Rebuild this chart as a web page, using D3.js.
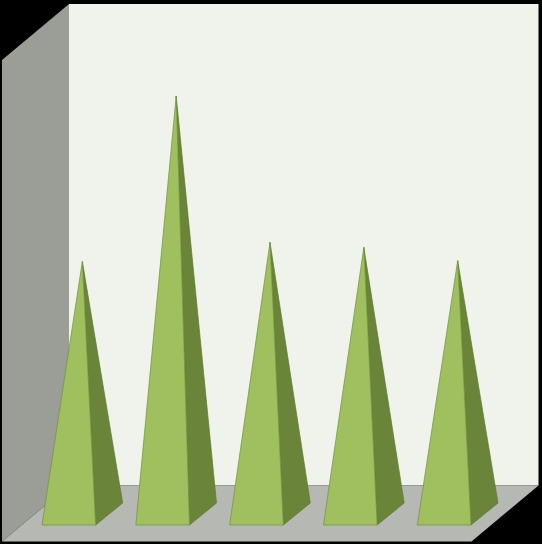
<!DOCTYPE html>
<html>
<head>
<meta charset="utf-8">
<script src="https://cdn.jsdelivr.net/npm/d3@7"></script>
<style>
html, body { margin: 0; padding: 0; background: #000; }
svg { display: block; }
</style>
</head>
<body>
<script>
// no labels in the picture, so the categories are just numbered
var categories = ["1", "2", "3", "4", "5"];
var values = [3.02, 5.0, 3.25, 3.19, 3.03];

var width = 542, height = 544;

var svg = d3.select("body").append("svg")
    .attr("width", width)
    .attr("height", height);

// wall corners
var left = 69, right = 538.5, top_ = 4, floorBack = 485.5;
var wallDx = 67, wallDy = 56;
// depth of a pyramid base
var baseDx = 27, baseDy = 22;
var baseFront = 525;

var xScale = d3.scaleBand()
    .domain(categories)
    .range([42, 471])
    .paddingInner(0.428);

// 0 sits at the middle of the base
var yScale = d3.scaleLinear()
    .domain([0, 5])
    .range([baseFront - baseDy / 2, 96]);

var line = d3.line();

// back wall
svg.append("path")
    .attr("fill", "#f0f3ec")
    .attr("d", line([[left, top_], [right, top_], [right, floorBack], [left, floorBack]]) + "Z");

// left wall
svg.append("path")
    .attr("fill", "#9b9d97")
    .attr("d", line([[left, top_], [left, floorBack], [left - wallDx, floorBack + wallDy], [left - wallDx, top_ + wallDy]]) + "Z");

// floor
svg.append("path")
    .attr("fill", "#b6b8b3")
    .attr("d", line([[left, floorBack], [right, floorBack], [right - wallDx, floorBack + wallDy], [left - wallDx, floorBack + wallDy]]) + "Z");

var pyramids = svg.selectAll("g.pyramid")
    .data(categories)
    .enter()
    .append("g")
    .attr("class", "pyramid");

function apex(d, i) {
    return [xScale(d) + (xScale.bandwidth() + baseDx) / 2, yScale(values[i])];
}

// side face
pyramids.append("path")
    .attr("fill", "#6a843a")
    .attr("stroke", "#5d7a30")
    .attr("stroke-width", 0.7)
    .attr("stroke-linejoin", "round")
    .attr("d", function(d, i) {
        var x1 = xScale(d) + xScale.bandwidth();
        return line([[x1, baseFront], [x1 + baseDx, baseFront - baseDy], apex(d, i)]) + "Z";
    });

// front face
pyramids.append("path")
    .attr("fill", "#a0bf5e")
    .attr("stroke", "#6f9438")
    .attr("stroke-width", 0.7)
    .attr("stroke-linejoin", "round")
    .attr("d", function(d, i) {
        var x0 = xScale(d);
        return line([[x0, baseFront], [x0 + xScale.bandwidth(), baseFront], apex(d, i)]) + "Z";
    });
</script>
</body>
</html>
